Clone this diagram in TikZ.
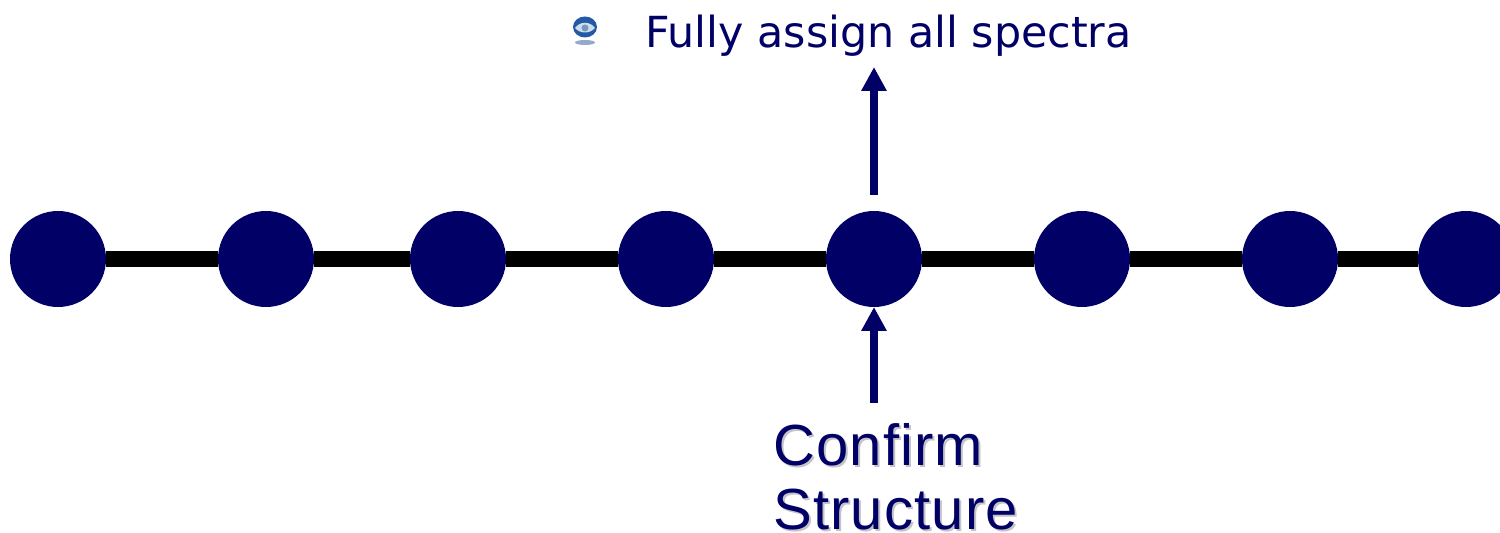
\documentclass[tikz,border=0pt]{standalone}
\usepackage{fontspec}
\setmainfont[LetterSpace=2]{Liberation Sans}
\newfontfamily\tahomalike{DejaVu Sans}
\usetikzlibrary{arrows.meta,shadings}
\definecolor{navy}{RGB}{0,0,102}
\definecolor{shadowgray}{RGB}{195,195,200}
\definecolor{bulletblue}{RGB}{35,90,165}
\definecolor{bulleteye}{RGB}{205,220,235}
\definecolor{bulletiris}{RGB}{120,150,190}
\definecolor{bulletglow}{RGB}{120,150,190}
\tikzset{
  x=0.5pt,y=-0.5pt,
  ball/.style={circle,fill=navy,draw=none,minimum size=48pt,inner sep=0pt},
  chain/.style={line width=8pt,draw=black},
  uparrow/.style={draw=navy,line width=4pt,-{Triangle[width=12pt,length=12pt,fill=navy]}},
  bigtext/.style={font=\fontsize{29}{32}\selectfont,align=left,inner sep=0pt,anchor=north west},
  smalltext/.style={font=\tahomalike\fontsize{21.4}{24}\selectfont,text=navy,inner sep=0pt,anchor=base west},
}
\begin{document}
\begin{tikzpicture}
\useasboundingbox (0,0) rectangle (1500,533);
\clip (0,0) rectangle (1500,533);
\node[ball] (n1) at (58,259) {};
\node[ball] (n2) at (266,259) {};
\node[ball] (n3) at (458,259) {};
\node[ball] (n4) at (666,259) {};
\node[ball] (n5) at (874,259) {};
\node[ball] (n6) at (1082,259) {};
\node[ball] (n7) at (1290,259) {};
\node[ball] (n8) at (1466,259) {};
\draw[chain] (n1) -- (n2);
\draw[chain] (n2) -- (n3);
\draw[chain] (n3) -- (n4);
\draw[chain] (n4) -- (n5);
\draw[chain] (n5) -- (n6);
\draw[chain] (n6) -- (n7);
\draw[chain] (n7) -- (n8);
\coordinate (upstart) at (874,195);
\coordinate (upend) at (874,67);
\coordinate (lowstart) at (874,403);
\coordinate (lowend) at (874,307);
\draw[uparrow] (upstart) -- (upend);
\draw[uparrow] (lowstart) -- (lowend);
% bullet
\fill[bulletglow,opacity=.8] (585,42.5) ellipse (10 and 2.5);
\fill[bulletblue] (585,27) ellipse (12 and 10.5);
\fill[bulleteye] (575,28) .. controls (580,21) and (590,21) .. (595,28) .. controls (590,34) and (580,34) .. (575,28) -- cycle;
\fill[bulletiris] (585,28) circle (3.5);
\node[smalltext] (top) at (645,48) {Fully assign all spectra};
\node[bigtext,text=shadowgray] (confirmshadow) at (775,425) {Confirm\\Structure};
\node[bigtext,text=navy] (confirm) at (773,423) {Confirm\\Structure};
\end{tikzpicture}
\end{document}
